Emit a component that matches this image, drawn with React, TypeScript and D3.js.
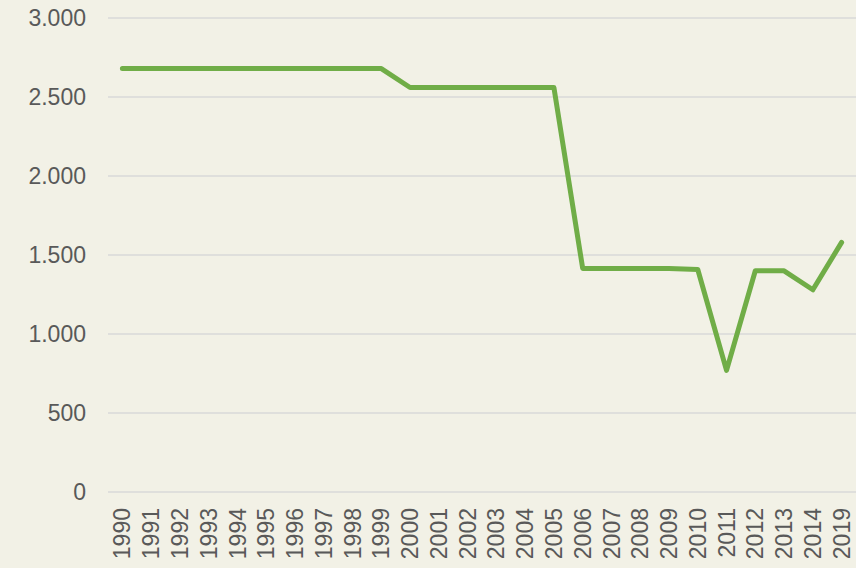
import React from "react";
import * as d3 from "d3";

const years = ["1990","1991","1992","1993","1994","1995","1996","1997","1998","1999","2000","2001","2002","2003","2004","2005","2006","2007","2008","2009","2010","2011","2012","2013","2014","2019"];
const values = [2680,2680,2680,2680,2680,2680,2680,2680,2680,2680,2560,2560,2560,2560,2560,2560,1415,1415,1415,1415,1408,770,1400,1400,1280,1580];
const yTicks = [0,500,1000,1500,2000,2500,3000];

const W = 856, H = 568;
const left = 108, right = 856, top = 18, bottom = 492;

export default function App() {
  const x = d3.scaleBand<string>().domain(years).range([left, right]);
  const y = d3.scaleLinear().domain([0, 3000]).range([bottom, top]);
  const fmt = (v: number) => d3.format(",")(v).replace(/,/g, ".");
  const line = d3.line<number>()
    .x((_, i) => (x(years[i]) as number) + x.bandwidth() / 2)
    .y(d => y(d));
  return (
    <svg width={W} height={H} style={{ position: "absolute", left: 0, top: 0, display: "block" }}
      fontFamily="'Liberation Sans', Arial, sans-serif">
      <rect x={0} y={0} width={W} height={H} fill="#f2f1e6" />
      {yTicks.map(t => (
        <g key={t}>
          <line x1={left} x2={right} y1={y(t)} y2={y(t)} stroke="#d9d9d9" strokeWidth={1.5} />
          <text x={86} y={y(t)} dy="0.35em" textAnchor="end" fontSize={23} fill="#595959">{fmt(t)}</text>
        </g>
      ))}
      {years.map(yr => {
        const cx = (x(yr) as number) + x.bandwidth() / 2;
        return (
          <text key={yr} transform={`translate(${cx},${508}) rotate(-90)`} textAnchor="end" dy="0.35em"
            fontSize={23} fill="#595959">{yr}</text>
        );
      })}
      <path d={line(values) || ""} fill="none" stroke="#70ad47" strokeWidth={5}
        strokeLinecap="round" strokeLinejoin="round" />
    </svg>
  );
}
